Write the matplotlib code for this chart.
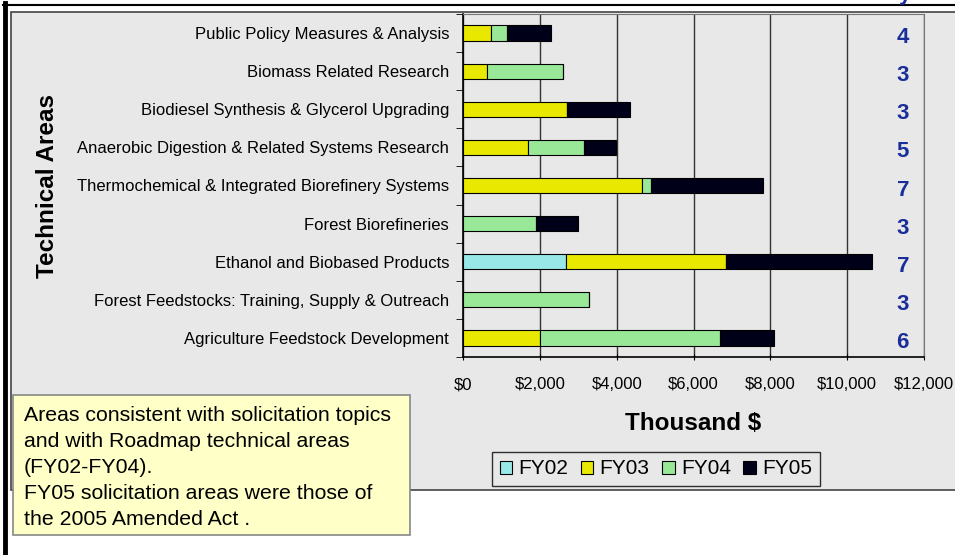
import matplotlib.pyplot as plt
from matplotlib.patches import Rectangle, Patch
from matplotlib.lines import Line2D
import numpy as np

plt.rcParams['font.family'] = ['Liberation Sans', 'DejaVu Sans']

# categories listed bottom to top
areas = ['Agriculture Feedstock Development',
         'Forest Feedstocks: Training, Supply & Outreach',
         'Ethanol and Biobased Products',
         'Forest Biorefineries',
         'Thermochemical & Integrated Biorefinery Systems',
         'Anaerobic Digestion & Related Systems Research',
         'Biodiesel Synthesis & Glycerol Upgrading',
         'Biomass Related Research',
         'Public Policy Measures & Analysis']

# thousand $
fy02 = [0, 0, 2690, 0, 0, 0, 0, 0, 0]
fy03 = [2000, 0, 4150, 0, 4660, 1700, 2710, 615, 720]
fy04 = [4690, 3270, 0, 1910, 240, 1455, 0, 1995, 430]
fy05 = [1400, 0, 3800, 1090, 2920, 835, 1640, 0, 1140]
projects = [6, 3, 7, 3, 7, 5, 3, 3, 4]

series = ['FY02', 'FY03', 'FY04', 'FY05']
colors = ['#99E8E8', '#E8E800', '#98E898', '#000018']
xticks = [0, 2000, 4000, 6000, 8000, 10000, 12000]
xlabels = ['$0', '$2,000', '$4,000', '$6,000', '$8,000', '$10,000', '$12,000']

W, H = 955, 555
fig = plt.figure(figsize=(W / 100, H / 100), dpi=100)

def fx(px):
    return px / W

def fy(py):
    return 1 - py / H

# background panel and frame
fig.patches.append(Rectangle((fx(11), fy(490)), fx(960) - fx(11), fy(12) - fy(490),
                             transform=fig.transFigure, facecolor='#E8E8E8',
                             edgecolor='#444444', linewidth=1.2, zorder=-2))
fig.add_artist(Line2D([fx(5), fx(5)], [0, fy(3)], color='black', linewidth=3.5))
fig.add_artist(Line2D([fx(3), 1], [fy(5), fy(5)], color='black', linewidth=1.5))

ax = fig.add_axes([fx(463), fy(357), fx(924) - fx(463), fy(14) - fy(357)])
ax.set_facecolor('#E8E8E8')

y = np.arange(len(areas))
left = np.zeros(len(areas))
for vals, name, c in zip([fy02, fy03, fy04, fy05], series, colors):
    vals = np.array(vals)
    ax.barh(y, vals, left=left, height=0.4, color=c, edgecolor='black',
            linewidth=0.8, label=name, zorder=3)
    left += vals

ax.set_xlim(0, 12000)
ax.set_ylim(-0.5, len(areas) - 0.5)
ax.set_xticks(xticks)
ax.set_xticklabels(xlabels, fontsize=12)
ax.set_yticks(y)
ax.set_yticklabels(areas, fontsize=12)
ax.set_yticks(np.arange(len(areas) + 1) - 0.5, minor=True)
ax.tick_params(axis='y', which='major', length=0, pad=10)
ax.tick_params(axis='y', which='minor', length=5, direction='out')
ax.tick_params(axis='x', length=5, direction='inout', pad=12)
ax.grid(axis='x', color='#333333', linewidth=1.0, zorder=1)
ax.spines['top'].set_color('#777777')
ax.spines['right'].set_color('#777777')
ax.spines['left'].set_linewidth(1.2)
ax.spines['bottom'].set_linewidth(1.2)

ax.set_ylabel('Technical Areas', fontsize=17.5, fontweight='bold', labelpad=0)
ax.yaxis.set_label_coords((59 - 463) / (924 - 463), 0.5)
ax.set_xlabel('Thousand $', fontsize=17.5, fontweight='bold', labelpad=14)

for yi, n in zip(y, projects):
    ax.text(0.954, yi - 0.12, str(n), transform=ax.get_yaxis_transform(),
            color='#1A2E9A', fontsize=16, fontweight='bold', ha='center', va='center')

fig.text(fx(905), fy(-6), 'y', color='#1A2E9A', fontsize=16, fontweight='bold',
         ha='center', va='center')

handles = [Patch(facecolor=c, edgecolor='black', linewidth=0.8) for c in colors]
leg = fig.legend(handles, series, loc='center', bbox_to_anchor=(fx(656), fy(469)),
                 ncol=4, fontsize=15, frameon=True, fancybox=False,
                 handlelength=0.6, handleheight=0.6, handletextpad=0.3,
                 columnspacing=0.6, borderpad=0.38, borderaxespad=0)
leg.get_frame().set_facecolor('#E8E8E8')
leg.get_frame().set_edgecolor('black')
leg.get_frame().set_linewidth(1.0)

# note box
fig.patches.append(Rectangle((fx(13), fy(535)), fx(410) - fx(13), fy(395) - fy(535),
                             transform=fig.transFigure, facecolor='#FFFFC8',
                             edgecolor='#888888', linewidth=1.2, zorder=5))
note = ('Areas consistent with solicitation topics\n'
        'and with Roadmap technical areas\n'
        '(FY02-FY04).\n'
        'FY05 solicitation areas were those of\n'
        'the 2005 Amended Act .')
fig.text(fx(24), fy(406), note, fontsize=15.3, ha='left', va='top',
         linespacing=1.47, zorder=6)

fig.savefig('out.png', dpi=100)
